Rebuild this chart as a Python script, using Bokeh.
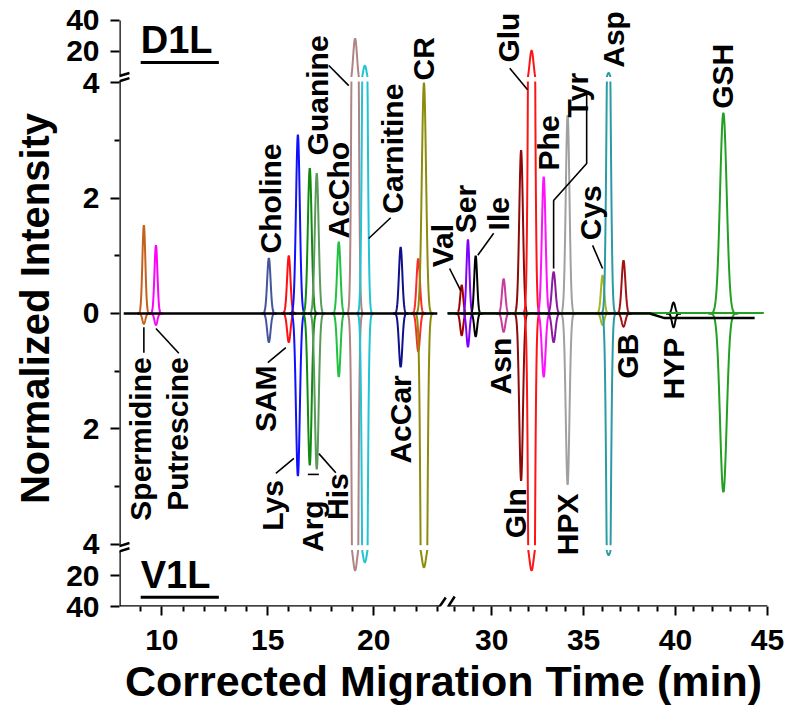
import numpy as np
from bokeh.plotting import figure
from bokeh.models import Range1d, FixedTicker, Arrow, ColumnDataSource
from bokeh.core.properties import value
from bokeh.embed import file_html
from bokeh.resources import INLINE

FONT = "Liberation Sans"

# ---------------- data ----------------
compounds = ["Spermidine", "Putrescine", "Choline", "SAM", "Lys", "Arg", "His", "AcCho",
             "Guanine", "Carnitine", "AcCar", "unlabeled", "CR", "Val", "Ser", "Ile", "Asn",
             "Gln", "Glu", "Phe", "Tyr", "HPX", "Cys", "Asp", "GB", "HYP", "GSH"]
migration_time = [9.15, 9.72, 15.05, 15.99, 16.42, 16.98, 17.31, 18.35,
                  19.12, 19.58, 21.27, 22.10, 22.37, 28.37, 28.71, 29.13, 30.65,
                  31.60, 32.17, 32.83, 33.37, 34.13, 36.03, 36.36, 37.17, 39.89, 42.60]
d1l_intensity = [1.53, 1.18, 0.96, 1.00, 3.10, 2.52, 2.43, 1.24,
                 28.2, 11.0, 1.15, 0.95, 4.0, 0.49, 1.28, 1.00, 0.60,
                 2.83, 20.3, 2.37, 0.72, 3.44, 0.66, 6.5, 0.92, 0.19, 3.48]
v1l_intensity = [0.18, 0.20, 0.50, 0.50, 2.82, 2.63, 2.70, 1.10,
                 16.6, 11.6, 0.93, 0.66, 14.7, 0.38, 0.58, 0.40, 0.32,
                 2.90, 16.6, 1.10, 0.50, 2.97, 0.20, 7.2, 0.23, 0.24, 3.10]
peak_sigma = [0.07, 0.07, 0.08, 0.08, 0.09, 0.09, 0.09, 0.08,
              0.09, 0.09, 0.08, 0.08, 0.10, 0.08, 0.08, 0.08, 0.09,
              0.10, 0.11, 0.10, 0.10, 0.10, 0.09, 0.10, 0.10, 0.09, 0.18]
peak_colors = ["#c4621c", "#ff00ff", "#4455a0", "#ff1010", "#1010ff", "#108a10", "#5a9a5a", "#20c040",
               "#b08484", "#20c4d4", "#10108c", "#ff2a2a", "#8c8c0c", "#a00000", "#8000ff", "#000000",
               "#c83c9c", "#8c0a0a", "#ff1414", "#ff10ff", "#8a1aa0", "#a0a0a0", "#a8b428", "#2a9ca4",
               "#a01414", "#000000", "#22a022"]

# baseline traces (time, intensity); NaN = gap at the axis break
baseline_time = [8.2, 23.0, np.nan, 27.6, 38.6, 39.4, 44.3]
baseline_value = [0.0, 0.0, np.nan, 0.0, 0.0, -0.08, -0.08]
green_base_time = [27.6, 44.8]
green_base_value = [0.01, 0.01]

x_tick_minutes = [10, 15, 20, 30, 35, 40, 45]
x_tick_labels = ["10", "15", "20", "30", "35", "40", "45"]
x_minor_minutes = [m for m in list(range(9, 24)) + list(range(28, 45)) if m not in x_tick_minutes]
y_tick_values = [40, 20, 4, 2, 0, -2, -4, -20, -40]
y_tick_labels = ["40", "20", "4", "2", "0", "2", "4", "20", "40"]
y_minor_values = [3, 1, -1, -3]

# ---------------- broken-axis transforms ----------------
X30 = 25.566           # plot position of 30 min (right segment)
R_SCALE = 18.4 / 21.2  # right segment is drawn slightly compressed


def tx(t):
    t = np.asarray(t, float)
    return np.where(t < 25, t, X30 + (t - 30) * R_SCALE)


def ty(v):
    v = np.asarray(v, float)
    a = np.abs(v)
    comp = np.interp(a, [4, 20, 40], [4.1, 4.55, 5.08])
    return np.sign(v) * np.where(a <= 4, a, comp)


XMAX = float(tx(45))
YMAX = float(ty(40))
YTOP = YMAX + 0.173   # a little room above the "40" tick for tall labels

p = figure(width=798, height=707, x_range=Range1d(8, XMAX), y_range=Range1d(-YMAX, YTOP),
           output_backend="svg", toolbar_location=None,
           min_border_left=119, min_border_right=31, min_border_top=10, min_border_bottom=100)
p.xgrid.grid_line_color = None
p.ygrid.grid_line_color = None
p.outline_line_color = None
p.background_fill_color = "white"

# ---------------- peaks ----------------
xs_top, ys_top, xs_bot, ys_bot = [], [], [], []
for c, h1, h2, s in zip(migration_time, d1l_intensity, v1l_intensity, peak_sigma):
    t = np.linspace(c - 4.5 * s, c + 4.5 * s, 81)
    g = np.exp(-0.5 * ((t - c) / s) ** 2)
    xs_top.append(tx(t).tolist()); ys_top.append(ty(h1 * g).tolist())
    xs_bot.append(tx(t).tolist()); ys_bot.append((-ty(h2 * g)).tolist())

p.multi_line(xs_bot, ys_bot, line_color=peak_colors, line_width=2)
p.multi_line(xs_top, ys_top, line_color=peak_colors, line_width=2)

# gaps where the intensity axis is broken
p.quad(left=[8, 8], right=[XMAX, XMAX], bottom=[4.02, -4.1], top=[4.1, -4.02],
       fill_color="white", line_color=None)

# baselines
p.line(tx(green_base_time), ty(green_base_value), line_color="#22a022", line_width=2)
p.line(tx(baseline_time), ty(baseline_value), line_color="black", line_width=2.5)

# ---------------- peak labels ----------------
top_labels = [("Choline", 15.14, 1.04), ("Guanine", 17.36, 2.74), ("AcCho", 18.35, 1.30),
              ("Carnitine", 20.90, 1.73), ("CR", 22.36, 4.04), ("Val", 23.25, 0.80),
              ("Ser", 24.34, 1.39), ("Ile", 25.90, 1.44), ("Glu", 26.37, 4.35),
              ("Phe", 28.25, 2.48), ("Tyr", 29.62, 3.40), ("Cys", 30.24, 1.27),
              ("Asp", 31.32, 4.26), ("GSH", 36.46, 3.55)]
bot_labels = [("Spermidine", 9.01, -0.76), ("Putrescine", 10.75, -0.76), ("SAM", 14.91, -0.90),
              ("Lys", 15.24, -2.89), ("Arg", 17.12, -3.24), ("His", 18.30, -2.77),
              ("AcCar", 21.27, -1.07), ("Asn", 25.99, -0.42), ("Gln", 26.70, -3.03),
              ("HPX", 29.15, -3.12), ("GB", 31.98, -0.35), ("HYP", 34.15, -0.42)]

for labs, align in ((top_labels, "left"), (bot_labels, "right")):
    src = ColumnDataSource(dict(x=[l[1] for l in labs], y=[l[2] for l in labs], t=[l[0] for l in labs]))
    p.text(x="x", y="y", text="t", source=src, angle=np.pi / 2, text_align=align,
           text_baseline="middle", text_font=value(FONT), text_font_style="bold",
           text_font_size="30px", text_color="black")

leaders = [([17.88, 18.82], [4.30, 3.95]), ([20.80, 19.76], [1.66, 1.30]),
           ([23.58, 24.10], [0.78, 0.40]), ([25.66, 24.91], [1.39, 1.01]),
           ([26.42, 27.26], [4.25, 3.88]),
           ([30.05, 30.05, 28.49, 28.49], [3.81, 2.60, 1.96, 0.78]),
           ([30.33, 30.80], [1.18, 0.78]),
           ([9.15, 9.15], [-0.24, -0.68]), ([9.72, 10.80], [-0.26, -0.69]),
           ([15.00, 15.85], [-0.85, -0.59]), ([15.38, 16.23], [-2.77, -2.51]),
           ([16.89, 17.41], [-2.79, -2.79]), ([18.21, 17.41], [-2.76, -2.43])]
p.multi_line([l[0] for l in leaders], [l[1] for l in leaders], line_color="black", line_width=1.6)

# panel tags
p.text(x=[9.0, 9.0], y=[4.74, -4.53], text=["D1L", "V1L"], text_align="left",
       text_baseline="middle", text_font=value(FONT), text_font_style="bold",
       text_font_size="38px", text_color="black")
p.segment(x0=[9.0, 9.0], y0=[4.35, -4.92], x1=[12.69, 12.69], y1=[4.35, -4.92],
          line_color="black", line_width=3)

# ---------------- axes ----------------
xt = [float(v) for v in tx(x_tick_minutes)]
p.xaxis.ticker = FixedTicker(ticks=xt, minor_ticks=[float(v) for v in tx(x_minor_minutes)])
p.xaxis.major_label_overrides = {k: l for k, l in zip(xt, x_tick_labels)}
yt = [float(v) for v in ty(y_tick_values)]
p.yaxis.ticker = FixedTicker(ticks=yt, minor_ticks=[float(v) for v in ty(y_minor_values)])
p.yaxis.major_label_overrides = {k: l for k, l in zip(yt, y_tick_labels)}

for ax in (p.xaxis[0], p.yaxis[0]):
    ax.axis_line_color = None
    ax.major_tick_line_color = "black"
    ax.minor_tick_line_color = "black"
    ax.major_tick_line_width = 2
    ax.minor_tick_line_width = 2
    ax.major_tick_in = 0
    ax.minor_tick_in = 0
    ax.major_tick_out = 9
    ax.minor_tick_out = 5
    ax.major_label_text_font = FONT
    ax.major_label_text_font_style = "bold"
    ax.major_label_text_font_size = "30px"
    ax.major_label_text_color = "black"
    ax.axis_label_text_font = FONT
    ax.axis_label_text_font_style = "bold"
    ax.axis_label_text_color = "black"

p.xaxis.axis_label = "Corrected Migration Time (min)"
p.xaxis.axis_label_text_font_size = "43px"
p.xaxis.major_label_standoff = 14
p.xaxis.axis_label_standoff = 4
p.yaxis.axis_label = "Normalized Intensity"
p.yaxis.axis_label_text_font_size = "40px"
p.yaxis.major_label_standoff = 11
p.yaxis.axis_label_standoff = 6

# axis lines drawn with breaks (annotations, so not clipped by the frame)
axis_segs = dict(
    x0=[8, 8, 8, 8.0, 23.52, 7.58, 7.58, 7.58, 7.58, 22.69, 23.16],
    y0=[YMAX, 4.03, -4.12, -YMAX, -YMAX, 3.98, 4.07, -4.08, -4.17, -5.305, -5.287],
    x1=[8, 8, 8, 23.11, XMAX, 8.47, 8.47, 8.47, 8.47, 23.40, 23.82],
    y1=[4.12, -4.03, -YMAX, -YMAX, -YMAX, 4.08, 4.17, -3.98, -4.07, -4.924, -4.906],
)
p.add_layout(Arrow(end=None, start=None, x_start="x0", y_start="y0", x_end="x1", y_end="y1",
                   source=ColumnDataSource(axis_segs), line_color="black", line_width=2.5))

open("out.html", "w").write(file_html(p, INLINE))
